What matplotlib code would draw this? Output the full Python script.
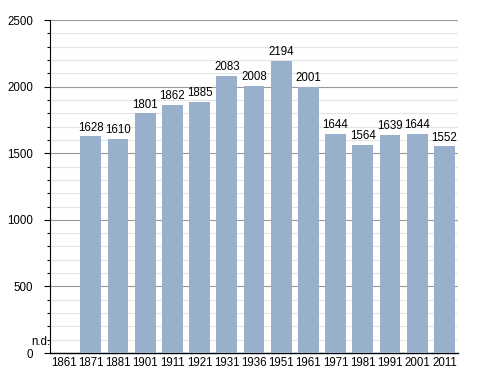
import matplotlib.pyplot as plt
from matplotlib.ticker import MultipleLocator

plt.rcParams["font.family"] = ["Liberation Sans", "DejaVu Sans"]

years = ["1861", "1871", "1881", "1901", "1911", "1921", "1931", "1936",
         "1951", "1961", "1971", "1981", "1991", "2001", "2011"]
population = [0, 1628, 1610, 1801, 1862, 1885, 2083, 2008,
              2194, 2001, 1644, 1564, 1639, 1644, 1552]

fig = plt.figure(figsize=(4.88, 3.73), dpi=100)
ax = fig.add_axes([0.1025, 0.0536, 0.836, 0.8924])

x = range(len(years))
ax.bar(x, population, width=0.76, color="#98b0cc", zorder=3)

for i, v in enumerate(population):
    if v > 0:
        ax.text(i, v + 20, str(v), ha="center", va="bottom", fontsize=8.3)
ax.text(-0.5, 40, "n.d.", ha="right", va="bottom", fontsize=8.3)

ax.set_xlim(-0.5, len(years) - 0.5)
ax.set_ylim(0, 2500)
ax.set_xticks(list(x))
ax.set_xticklabels(years, fontsize=8.3)
ax.tick_params(axis="x", length=0, pad=3)
ax.yaxis.set_major_locator(MultipleLocator(500))
ax.yaxis.set_minor_locator(MultipleLocator(100))
ax.tick_params(axis="y", labelsize=8.3, length=4, width=0.8, pad=8)
ax.tick_params(axis="y", which="minor", length=2, width=0.8)
ax.grid(axis="y", which="major", color="#999999", linewidth=0.8, zorder=0)
ax.grid(axis="y", which="minor", color="#e4e4e4", linewidth=0.8, zorder=0)
for s in ["top", "right"]:
    ax.spines[s].set_visible(False)
ax.spines["left"].set_linewidth(0.8)
ax.spines["bottom"].set_linewidth(1.0)

fig.savefig("out.png", dpi=100)
